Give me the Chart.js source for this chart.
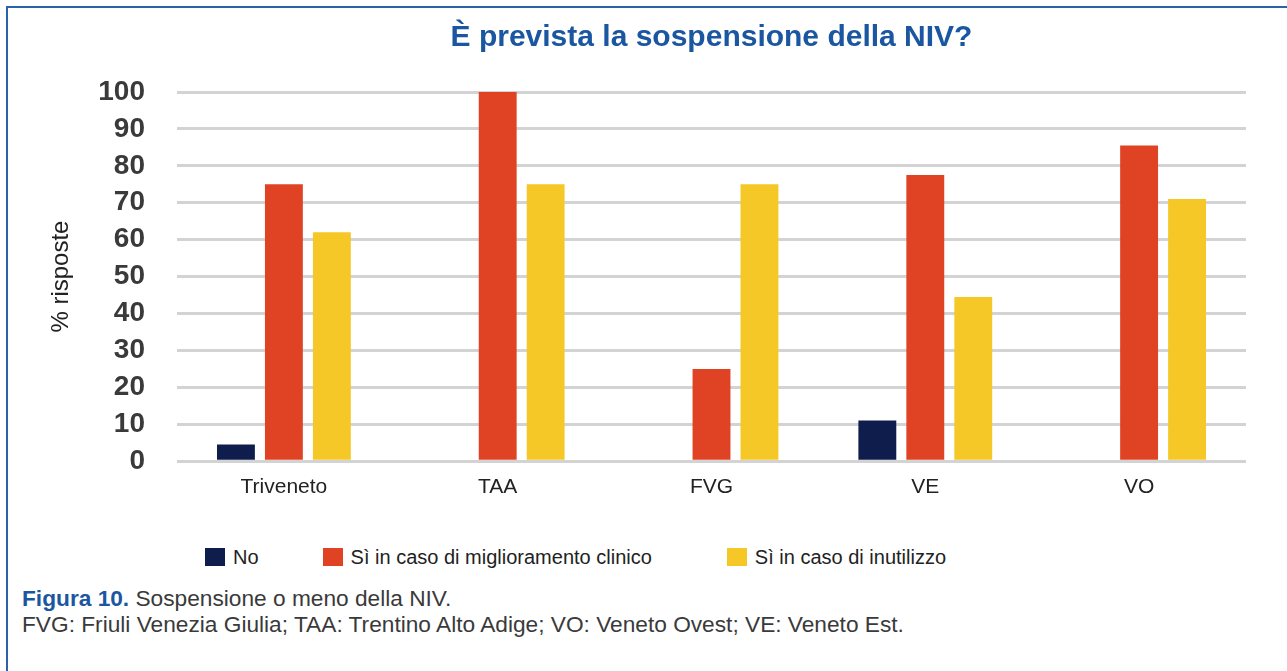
<!DOCTYPE html>
<html lang="it">
  <head>
    <meta charset="UTF-8" />
    <title>Sospensione della NIV</title>
    <script src="https://cdn.jsdelivr.net/npm/chart.js"></script>
    <style>
      html, body { margin: 0; padding: 0; background: #fff; }
      body { width: 1287px; height: 671px; position: relative; overflow: hidden;
             font-family: "Liberation Sans", Arial, sans-serif; }
      .frame { position: absolute; left: 6px; top: 6px; right: -4px; bottom: -4px;
               border-top: 2px solid #2b63aa; border-left: 2px solid #2b63aa; }
      .box { position: absolute; left: 8px; top: 8px; width: 1279px; height: 502px; }
      .legend { position: absolute; left: 205px; top: 545px; display: flex; gap: 64px;
                font-size: 20px; line-height: 24px; color: #222; }
      .legend span.item { display: flex; align-items: center; }
      .legend span.item:last-child { margin-left: 11px; }
      .legend i { display: inline-block; width: 20px; height: 18px; margin-right: 8px; }
      .caption { position: absolute; left: 22px; top: 585px; font-size: 22.7px; line-height: 26px; color: #3a3a3a; }
      .caption b { color: #1b56a0; }
    </style>
  </head>
  <body>
    <div class="frame"></div>
    <div class="box"><canvas id="chart"></canvas></div>
    <div class="legend" id="legend"></div>
    <div class="caption">
      <b>Figura 10.</b> Sospensione o meno della NIV.<br>
      FVG: Friuli Venezia Giulia; TAA: Trentino Alto Adige; VO: Veneto Ovest; VE: Veneto Est.
    </div>

    <script>
      // dati
      const categories = ["Triveneto", "TAA", "FVG", "VE", "VO"];
      const seriesNames = ["No", "Sì in caso di miglioramento clinico", "Sì in caso di inutilizzo"];
      const seriesColors = ["#0f1d4d", "#e04324", "#f5c828"];
      const valNo = [4.5, 0, 0, 11, 0];
      const valMiglioramento = [75, 100, 25, 77.5, 85.5];
      const valInutilizzo = [62, 75, 75, 44.5, 71];
      const yTicks = [0, 10, 20, 30, 40, 50, 60, 70, 80, 90, 100];

      const seriesValues = [valNo, valMiglioramento, valInutilizzo];

      const chart = new Chart(document.getElementById("chart"), {
        type: "bar",
        data: {
          labels: categories,
          datasets: seriesNames.map((name, i) => ({
            label: name,
            data: seriesValues[i],
            backgroundColor: seriesColors[i],
            borderWidth: 0,
            categoryPercentage: 0.673,
            barPercentage: 0.79
          }))
        },
        options: {
          responsive: true,
          maintainAspectRatio: false,
          animation: false,
          layout: { padding: { left: 0, right: 41, top: 0, bottom: 0 } },
          plugins: {
            legend: { display: false },
            tooltip: { enabled: false },
            title: {
              display: true,
              fullSize: false,
              text: "È prevista la sospensione della NIV?",
              color: "#1b56a0",
              font: { family: "'Liberation Sans', Arial, sans-serif", size: 30, weight: "bold" },
              padding: { top: 12, bottom: 36 }
            }
          },
          scales: {
            x: {
              grid: { display: false },
              border: { display: false },
              ticks: {
                color: "#222",
                padding: 5,
                font: { family: "'Liberation Sans', Arial, sans-serif", size: 21 }
              }
            },
            y: {
              min: 0,
              max: 100,
              afterBuildTicks: s => { s.ticks = yTicks.map(v => ({ value: v })); },
              afterFit: s => { s.width = 169; },
              grid: { color: "#d3d3d3", lineWidth: 3, drawTicks: false },
              border: { display: false },
              ticks: {
                color: "#3a3a3a",
                padding: 32,
                font: { family: "'Liberation Sans', Arial, sans-serif", size: 28, weight: "bold" }
              },
              title: {
                display: true,
                text: "% risposte",
                color: "#222",
                padding: { top: 39, bottom: 0 },
                font: { family: "'Liberation Sans', Arial, sans-serif", size: 24 }
              }
            }
          }
        }
      });

      // legenda html
      const legend = document.getElementById("legend");
      seriesNames.forEach((name, i) => {
        legend.insertAdjacentHTML("beforeend",
          `<span class="item"><i style="background:${seriesColors[i]}"></i>${name}</span>`);
      });
    </script>
  </body>
</html>
